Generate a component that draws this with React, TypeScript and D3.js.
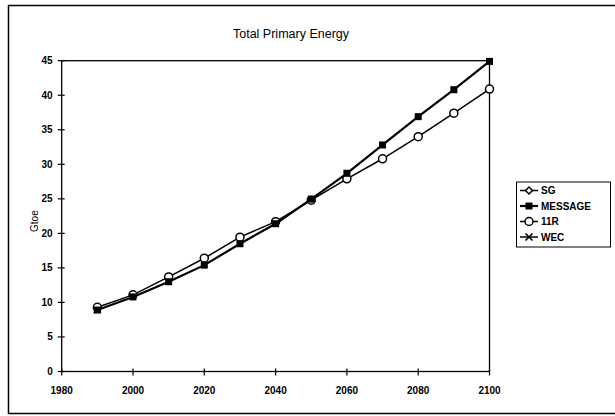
import React from "react";
import * as d3 from "d3";

const years = [1990, 2000, 2010, 2020, 2030, 2040, 2050, 2060, 2070, 2080, 2090, 2100];
const sgValues = [9.2];
const messageValues = [8.9, 10.8, 13.0, 15.4, 18.5, 21.4, 24.95, 28.7, 32.8, 36.9, 40.8, 44.9];
const r11Values = [9.3, 11.1, 13.7, 16.4, 19.45, 21.7, 24.8, 27.9, 30.8, 34.0, 37.4, 40.9];
const wecValues = [9.0];
const seriesNames = ["SG", "MESSAGE", "11R", "WEC"];
const xTicks = [1980, 2000, 2020, 2040, 2060, 2080, 2100];
const yTicks = [0, 5, 10, 15, 20, 25, 30, 35, 40, 45];
const title = "Total Primary Energy";
const yLabel = "Gtoe";

const W = 615;
const H = 416;
const FONT = "'Liberation Sans', Arial, sans-serif";

function Marker({ kind, x, y }: { kind: string; x: number; y: number }) {
  if (kind === "SG") {
    const s = 3.5;
    return (
      <path
        d={`M${x},${y - s}L${x + s},${y}L${x},${y + s}L${x - s},${y}Z`}
        fill="#fff"
        stroke="#000"
        strokeWidth={1.5}
      />
    );
  }
  if (kind === "MESSAGE") {
    return <rect x={x - 3.5} y={y - 3.5} width={7} height={7} fill="#000" />;
  }
  if (kind === "11R") {
    return <circle cx={x} cy={y} r={4} fill="#fff" stroke="#000" strokeWidth={1.5} />;
  }
  const s = 3.5;
  return (
    <path
      d={`M${x - s},${y - s}L${x + s},${y + s}M${x - s},${y + s}L${x + s},${y - s}`}
      stroke="#000"
      strokeWidth={1.6}
    />
  );
}

export default function App() {
  const x = d3.scaleLinear().domain([1980, 2100]).range([61.7, 489.5]);
  const y = d3.scaleLinear().domain([0, 45]).range([371.5, 60.7]);

  const data: Record<string, number[]> = {
    SG: sgValues,
    MESSAGE: messageValues,
    "11R": r11Values,
    WEC: wecValues,
  };
  const widths: Record<string, number> = { SG: 1.5, MESSAGE: 2.2, "11R": 1.5, WEC: 1.5 };

  const line = d3
    .line<number>()
    .x((_, i) => x(years[i]))
    .y((d) => y(d));

  const drawOrder = ["SG", "WEC", "11R", "MESSAGE"];

  const legendTop = 182;
  const legendStep = 15.5;

  return (
    <svg
      width={W}
      height={H}
      style={{ position: "absolute", left: 0, top: 0, background: "#fff" }}
      fontFamily={FONT}
    >
      <rect x={0} y={0} width={W} height={H} fill="#fff" />
      {/* outer frame */}
      <rect x={8.5} y={5.5} width={640} height={408} fill="none" stroke="#000" strokeWidth={1.5} />
      {/* title */}
      <text x={291} y={38} textAnchor="middle" fontSize={12.5} fill="#000">
        {title}
      </text>
      {/* plot area */}
      <rect
        x={x(1980)}
        y={y(45)}
        width={x(2100) - x(1980)}
        height={y(0) - y(45)}
        fill="none"
        stroke="#000"
        strokeWidth={1.3}
      />
      {/* y axis ticks */}
      {yTicks.map((t) => (
        <g key={"y" + t}>
          <line x1={x(1980) - 4} x2={x(1980) + 3} y1={y(t)} y2={y(t)} stroke="#000" strokeWidth={1.2} />
          <text
            x={x(1980) - 9}
            y={y(t)}
            dy="0.35em"
            textAnchor="end"
            fontSize={10}
            fontWeight="bold"
            fill="#000"
          >
            {t}
          </text>
        </g>
      ))}
      {/* x axis ticks */}
      {xTicks.map((t) => (
        <g key={"x" + t}>
          <line x1={x(t)} x2={x(t)} y1={y(0) - 3} y2={y(0) + 4} stroke="#000" strokeWidth={1.2} />
          <text x={x(t)} y={y(0) + 19} dy="0.35em" textAnchor="middle" fontSize={10} fontWeight="bold" fill="#000">
            {t}
          </text>
        </g>
      ))}
      {/* y label */}
      <text
        transform={`translate(34,${(y(0) + y(45)) / 2 + 5}) rotate(-90)`}
        textAnchor="middle"
        dy="0.35em"
        fontSize={10}
        fill="#000"
      >
        {yLabel}
      </text>
      {/* series */}
      {drawOrder.map((name) => {
        const vals = data[name];
        return (
          <g key={name}>
            {vals.length > 1 && (
              <path d={line(vals) || ""} fill="none" stroke="#000" strokeWidth={widths[name]} />
            )}
            {vals.map((v, i) => (
              <Marker key={i} kind={name} x={x(years[i])} y={y(v)} />
            ))}
          </g>
        );
      })}
      {/* legend */}
      <rect x={516.5} y={legendTop} width={94} height={legendStep * 4 + 3} fill="#fff" stroke="#000" strokeWidth={1} />
      {seriesNames.map((name, i) => {
        const ly = legendTop + 8.5 + i * legendStep;
        return (
          <g key={"lg" + name}>
            <line x1={520} x2={538} y1={ly} y2={ly} stroke="#000" strokeWidth={widths[name]} />
            <Marker kind={name} x={529} y={ly} />
            <text x={541} y={ly} dy="0.35em" fontSize={10} fontWeight="bold" fill="#000">
              {name}
            </text>
          </g>
        );
      })}
    </svg>
  );
}
